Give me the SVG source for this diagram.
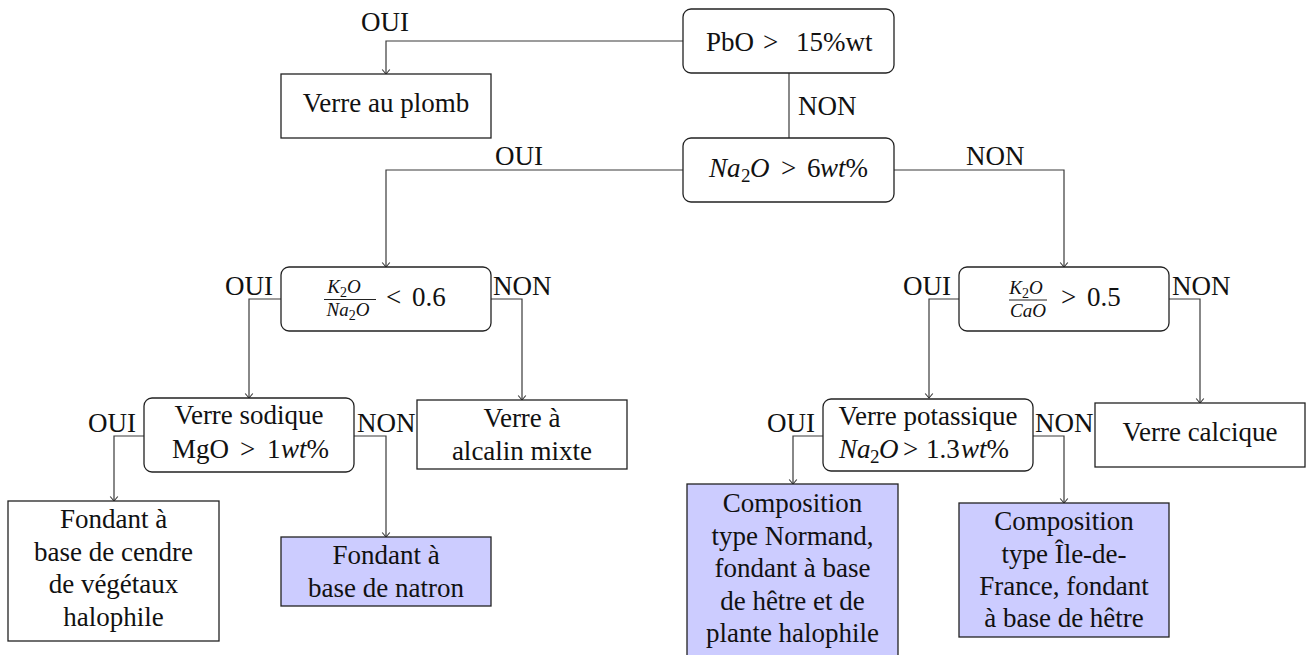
<svg xmlns="http://www.w3.org/2000/svg" width="1308" height="655" viewBox="0 0 1308 655">
<defs>
<marker id="arr" markerUnits="userSpaceOnUse" markerWidth="12" markerHeight="12" viewBox="-6 -6 12 12" refX="0" refY="0" orient="auto">
<path d="M-4.5,-3.8 Q-1,-0.9 0,0 Q-1,0.9 -4.5,3.8" fill="none" stroke="#3a3a3a" stroke-width="1.1"/>
</marker>
</defs>
<g style="font-family:'Liberation Serif';font-size:27px" fill="#111">

<g id="connectors">
<g fill="none" stroke="#3a3a3a" stroke-width="1.2">
<path d="M683,41 H386 V74" marker-end="url(#arr)"/>
<path d="M789,73 V138"/>
<path d="M683,170 H386 V267" marker-end="url(#arr)"/>
<path d="M894,170 H1064 V267" marker-end="url(#arr)"/>
<path d="M281,299 H249 V398" marker-end="url(#arr)"/>
<path d="M491,299 H522 V400" marker-end="url(#arr)"/>
<path d="M144,436 H114 V501" marker-end="url(#arr)"/>
<path d="M354,436 H386 V537" marker-end="url(#arr)"/>
<path d="M959,299 H929 V398" marker-end="url(#arr)"/>
<path d="M1169,299 H1200 V403" marker-end="url(#arr)"/>
<path d="M823,436 H793 V484" marker-end="url(#arr)"/>
<path d="M1033,436 H1064 V503" marker-end="url(#arr)"/>
</g>
<text style="font-family:'Liberation Serif'" text-anchor="middle" x="385" y="31">OUI</text>
<text style="font-family:'Liberation Serif'" x="798" y="115">NON</text>
<text style="font-family:'Liberation Serif'" x="495" y="165">OUI</text>
<text style="font-family:'Liberation Serif'" x="966" y="165">NON</text>
<text style="font-family:'Liberation Serif'" x="225" y="295">OUI</text>
<text style="font-family:'Liberation Serif'" x="493" y="295">NON</text>
<text style="font-family:'Liberation Serif'" x="88" y="432">OUI</text>
<text style="font-family:'Liberation Serif'" x="357" y="432">NON</text>
<text style="font-family:'Liberation Serif'" x="903" y="295">OUI</text>
<text style="font-family:'Liberation Serif'" x="1172" y="295">NON</text>
<text style="font-family:'Liberation Serif'" x="767" y="432">OUI</text>
<text style="font-family:'Liberation Serif'" x="1035" y="432">NON</text>
</g>

<g id="n-pbo">
<rect x="683" y="9" width="211" height="64" rx="8" fill="#fff" stroke="#222" stroke-width="1.3"/>
<text style="font-family:'Liberation Serif'" y="50.5"><tspan x="706">PbO</tspan><tspan x="763">&gt;</tspan><tspan x="796">15%wt</tspan></text>
</g>

<g id="n-plomb">
<rect x="281" y="74" width="210" height="64" fill="#fff" stroke="#222" stroke-width="1.3"/>
<text style="font-family:'Liberation Serif'" text-anchor="middle" x="386" y="112">Verre au plomb</text>
</g>

<g id="n-na2o">
<rect x="683" y="138" width="211" height="64" rx="8" fill="#fff" stroke="#222" stroke-width="1.3"/>
<text style="font-family:'Liberation Serif'" y="177"><tspan font-style="italic" x="709">Na</tspan><tspan font-size="19" x="741" dy="5">2</tspan><tspan font-style="italic" x="750" dy="-5">O</tspan><tspan x="781">&gt;</tspan><tspan x="807">6</tspan><tspan font-style="italic" x="820">wt</tspan><tspan>%</tspan></text>
</g>

<g id="n-k2o-na2o">
<rect x="281" y="267" width="210" height="64" rx="8" fill="#fff" stroke="#222" stroke-width="1.3"/>
<text style="font-family:'Liberation Serif';font-size:19px" text-anchor="middle" y="293"><tspan font-style="italic" x="344">K</tspan><tspan style="font-size:14px" dy="4">2</tspan><tspan font-style="italic" dy="-4">O</tspan></text>
<line x1="324" y1="299.5" x2="376" y2="299.5" stroke="#222" stroke-width="1"/>
<text style="font-family:'Liberation Serif';font-size:19px" text-anchor="middle" y="316"><tspan font-style="italic" x="348">Na</tspan><tspan style="font-size:14px" dy="4">2</tspan><tspan font-style="italic" dy="-4">O</tspan></text>
<text style="font-family:'Liberation Serif'" y="306"><tspan x="386">&lt;</tspan><tspan x="412">0.6</tspan></text>
</g>

<g id="n-k2o-cao">
<rect x="959" y="267" width="210" height="64" rx="8" fill="#fff" stroke="#222" stroke-width="1.3"/>
<text style="font-family:'Liberation Serif';font-size:19px" text-anchor="middle" y="294"><tspan font-style="italic" x="1026">K</tspan><tspan style="font-size:14px" dy="4">2</tspan><tspan font-style="italic" dy="-4">O</tspan></text>
<line x1="1009" y1="300" x2="1047" y2="300" stroke="#222" stroke-width="1"/>
<text style="font-family:'Liberation Serif';font-size:19px" text-anchor="middle" font-style="italic" x="1028" y="317">CaO</text>
<text style="font-family:'Liberation Serif'" y="306"><tspan x="1061">&gt;</tspan><tspan x="1087">0.5</tspan></text>
</g>

<g id="n-sodique">
<rect x="144" y="398" width="210" height="74" rx="8" fill="#fff" stroke="#222" stroke-width="1.3"/>
<text style="font-family:'Liberation Serif'" text-anchor="middle" x="249" y="424">Verre sodique</text>
<text style="font-family:'Liberation Serif'" y="458"><tspan x="172">MgO</tspan><tspan x="240">&gt;</tspan><tspan x="267">1</tspan><tspan font-style="italic" x="281">wt</tspan><tspan>%</tspan></text>
</g>

<g id="n-alcalin">
<rect x="417" y="400" width="210" height="69" fill="#fff" stroke="#222" stroke-width="1.3"/>
<text style="font-family:'Liberation Serif'" text-anchor="middle" x="522" y="427">Verre à</text>
<text style="font-family:'Liberation Serif'" text-anchor="middle" x="522" y="460">alcalin mixte</text>
</g>

<g id="n-cendre">
<rect x="8" y="501" width="211" height="140" fill="#fff" stroke="#222" stroke-width="1.3"/>
<text style="font-family:'Liberation Serif'" text-anchor="middle" x="113.5" y="528">Fondant à</text>
<text style="font-family:'Liberation Serif'" text-anchor="middle" x="113.5" y="561">base de cendre</text>
<text style="font-family:'Liberation Serif'" text-anchor="middle" x="113.5" y="593">de végétaux</text>
<text style="font-family:'Liberation Serif'" text-anchor="middle" x="113.5" y="626">halophile</text>
</g>

<g id="n-natron">
<rect x="281" y="537" width="210" height="69" fill="#ccccff" stroke="#222" stroke-width="1.3"/>
<text style="font-family:'Liberation Serif'" text-anchor="middle" x="386" y="564">Fondant à</text>
<text style="font-family:'Liberation Serif'" text-anchor="middle" x="386" y="597">base de natron</text>
</g>

<g id="n-potassique">
<rect x="823" y="399" width="210" height="72" rx="8" fill="#fff" stroke="#222" stroke-width="1.3"/>
<text style="font-family:'Liberation Serif'" text-anchor="middle" x="928" y="425">Verre potassique</text>
<text style="font-family:'Liberation Serif'" y="458"><tspan font-style="italic" x="839">Na</tspan><tspan font-size="19" x="870" dy="5">2</tspan><tspan font-style="italic" x="879" dy="-5">O</tspan><tspan x="903">&gt;</tspan><tspan x="926">1.3</tspan><tspan font-style="italic" x="961">wt</tspan><tspan>%</tspan></text>
</g>

<g id="n-calcique">
<rect x="1095" y="403" width="210" height="64" fill="#fff" stroke="#222" stroke-width="1.3"/>
<text style="font-family:'Liberation Serif'" text-anchor="middle" x="1200" y="441">Verre calcique</text>
</g>

<g id="n-normand">
<rect x="687" y="484" width="211" height="175" fill="#ccccff" stroke="#222" stroke-width="1.3"/>
<text style="font-family:'Liberation Serif'" text-anchor="middle" x="792.5" y="512">Composition</text>
<text style="font-family:'Liberation Serif'" text-anchor="middle" x="792.5" y="544.5">type Normand,</text>
<text style="font-family:'Liberation Serif'" text-anchor="middle" x="792.5" y="577">fondant à base</text>
<text style="font-family:'Liberation Serif'" text-anchor="middle" x="792.5" y="609.5">de hêtre et de</text>
<text style="font-family:'Liberation Serif'" text-anchor="middle" x="792.5" y="642">plante halophile</text>
</g>

<g id="n-idf">
<rect x="959" y="503" width="210" height="134" fill="#ccccff" stroke="#222" stroke-width="1.3"/>
<text style="font-family:'Liberation Serif'" text-anchor="middle" x="1064" y="530">Composition</text>
<text style="font-family:'Liberation Serif'" text-anchor="middle" x="1064" y="563">type Île-de-</text>
<text style="font-family:'Liberation Serif'" text-anchor="middle" x="1064" y="595">France, fondant</text>
<text style="font-family:'Liberation Serif'" text-anchor="middle" x="1064" y="627">à base de hêtre</text>
</g>
</g>
</svg>
